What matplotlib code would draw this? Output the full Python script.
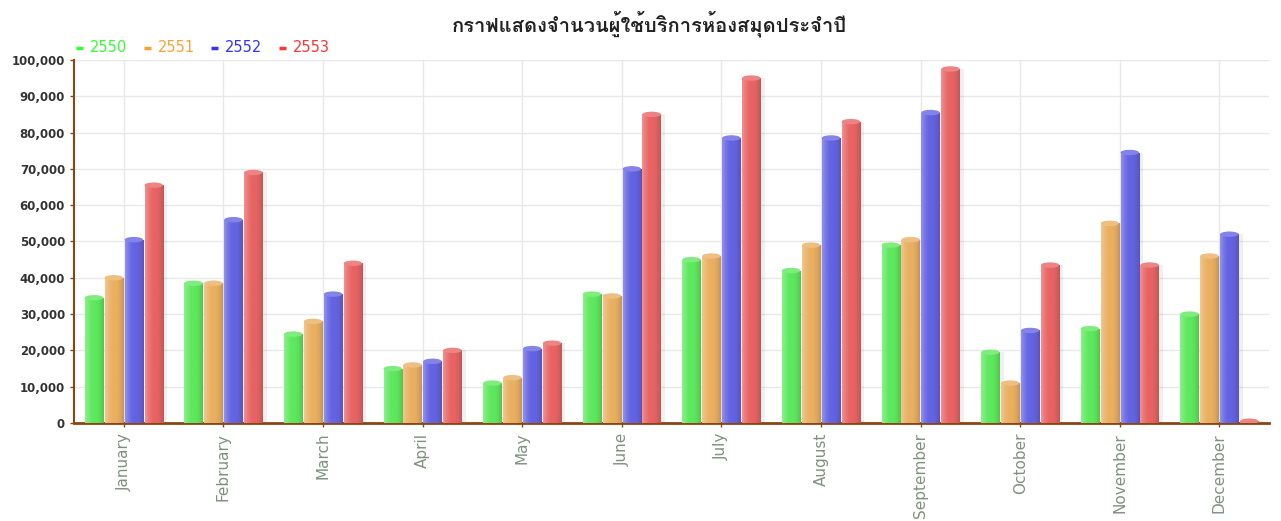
import numpy as np
import matplotlib
matplotlib.use("Agg")
import matplotlib.pyplot as plt
from matplotlib import font_manager
from matplotlib.ft2font import FT2Font
from matplotlib.patches import Ellipse
from matplotlib.lines import Line2D
from matplotlib.ticker import FuncFormatter
from matplotlib.colors import to_rgb

title = "กราฟแสดงจำนวนผู้ใช้บริการห้องสมุดประจำปี"
months = ["January", "February", "March", "April", "May", "June", "July",
          "August", "September", "October", "November", "December"]
series_names = ["2550", "2551", "2552", "2553"]
v2550 = [34500, 38500, 24500, 15000, 11000, 35500, 45000, 42000, 49000, 19500, 26000, 30000]
v2551 = [40000, 38500, 28000, 16000, 12500, 35000, 46000, 49000, 50500, 11000, 55000, 46000]
v2552 = [50500, 56000, 35500, 17000, 20500, 70000, 78500, 78500, 85500, 25500, 74500, 52000]
v2553 = [65500, 69000, 44000, 20000, 22000, 85000, 95000, 83000, 97500, 43500, 43500, 500]
bar_colors = ["#5ee85e", "#e9b062", "#6464e2", "#e86464"]
legend_colors = ["#33ff33", "#ffa033", "#3333ff", "#ff3333"]

# find a font that has Thai glyphs
thai_font = None
for f in font_manager.fontManager.ttflist:
    try:
        cm = FT2Font(f.fname).get_charmap()
        if 0x0E01 in cm and 0x0E32 in cm:
            thai_font = f.name
            break
    except Exception:
        pass
fam = [thai_font, "DejaVu Sans"] if thai_font else ["DejaVu Sans"]

W, H = 1281, 521
fig = plt.figure(figsize=(W / 100, H / 100), dpi=100)
ax = fig.add_axes([0.0578, 0.188, 0.933, 0.697])

x = np.arange(len(months))
allv = [v2550, v2551, v2552, v2553]
offsets = [-0.3, -0.1, 0.1, 0.3]
bw = 0.185

def lighten(c, a):
    r = np.array(to_rgb(c))
    return r + (1 - r) * a

def darken(c, a):
    r = np.array(to_rgb(c))
    return r * (1 - a)

for vals, off, col in zip(allv, offsets, bar_colors):
    # soft shadow
    ax.bar(x + off + 0.04, vals, bw, color="#000000", alpha=0.06, zorder=2, linewidth=0)
    bars = ax.bar(x + off, vals, bw, color=col, zorder=3, linewidth=0)
    base = np.array(to_rgb(col))
    grad = np.array([lighten(col, 0.3), lighten(col, 0.12), base, base,
                     darken(col, 0.05), darken(col, 0.15)])
    gx = np.linspace(0, 1, 64)
    gpos = np.linspace(0, 1, len(grad))
    img = np.stack([np.interp(gx, gpos, grad[:, k]) for k in range(3)], axis=-1)[None, :, :]
    for b in bars:
        x0, w, h = b.get_x(), b.get_width(), b.get_height()
        im = ax.imshow(img, extent=[x0, x0 + w, 0, h], aspect="auto", zorder=4,
                       interpolation="bilinear")
        im.set_clip_path(b)
        e = Ellipse((x0 + w / 2, h), w, 1500, facecolor=lighten(col, 0.2),
                    edgecolor="none", zorder=5)
        ax.add_patch(e)

ax.set_xlim(-0.5, len(months) - 0.5)
ax.set_ylim(0, 100000)
ax.set_yticks(np.arange(0, 100001, 10000))
ax.yaxis.set_major_formatter(FuncFormatter(lambda v, p: f"{int(v):,}"))
ax.set_xticks(x)
ax.set_xticklabels(months, rotation=90, fontsize=11, color="#7f917f")
ax.tick_params(axis="y", labelsize=8.5, colors="#8B4513", labelcolor="#333333",
               length=3, width=1)
for lab in ax.get_yticklabels():
    lab.set_fontweight("bold")
ax.tick_params(axis="x", colors="#8B4513", labelcolor="#7f917f", length=3, width=1, pad=4)
ax.grid(True, color="#e8e8e8", linewidth=1, zorder=0)
ax.set_axisbelow(True)
for s in ["top", "right"]:
    ax.spines[s].set_visible(False)
ax.spines["left"].set_color("#8B4513")
ax.spines["left"].set_linewidth(1.5)
ax.spines["bottom"].set_color("#8B4513")
ax.spines["bottom"].set_linewidth(2)

fig.text(0.507, 0.955, title, ha="center", va="center", fontsize=14.5,
         fontweight="bold", family=fam, color="#222222")

# legend
lx_px = 76
ly = 1 - 48 / H
for name, c in zip(series_names, legend_colors):
    fig.add_artist(Line2D([lx_px / W, (lx_px + 7) / W], [ly, ly], color=c,
                          linewidth=2.5, solid_capstyle="butt",
                          transform=fig.transFigure))
    fig.text((lx_px + 14) / W, ly, name, color=c, fontsize=10.5, va="center")
    lx_px += 67.5

fig.savefig("out.png", dpi=100)
